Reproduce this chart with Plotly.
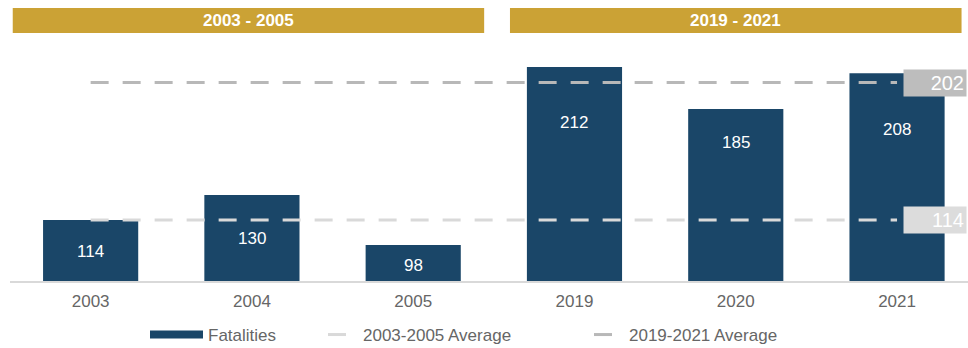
import plotly.graph_objects as go

years = ["2003", "2004", "2005", "2019", "2020", "2021"]
fatalities = [114, 130, 98, 212, 185, 208]
period_labels = ["2003 - 2005", "2019 - 2021"]
avg_names = ["2003-2005 Average", "2019-2021 Average"]

early = fatalities[:3]
late = fatalities[3:]
avg_early = round(sum(early) / len(early))
avg_late = round(sum(late) / len(late))

NAVY = "#1a4668"
GOLD = "#cba235"
LIGHT = "#d9d9d9"
DARK = "#b8b8b8"
FONT = "Liberation Sans, Arial, sans-serif"

# label offsets (px below bar top) for value labels
label_offsets = [31, 43, 20, 56, 33, 56]

fig = go.Figure()
fig.add_trace(go.Bar(x=years, y=fatalities, marker=dict(color=NAVY, line_width=0),
                     width=0.59, showlegend=False, hoverinfo="x+y"))
# legend proxy for bars
fig.add_trace(go.Scatter(x=[None], y=[None], mode="lines", name="Fatalities",
                         line=dict(color=NAVY, width=8), legend="legend"))
fig.add_trace(go.Scatter(x=[years[0], years[-1]], y=[avg_early, avg_early], mode="lines",
                         name=avg_names[0], line=dict(color=LIGHT, width=3, dash="18px,14px"),
                         legend="legend2"))
fig.add_trace(go.Scatter(x=[years[0], years[-1]], y=[avg_late, avg_late], mode="lines",
                         name=avg_names[1], line=dict(color=DARK, width=3, dash="18px,14px"),
                         legend="legend3"))

annotations = []
for i, (v, off) in enumerate(zip(fatalities, label_offsets)):
    annotations.append(dict(x=i, y=v, xref="x", yref="y", text=str(v), showarrow=False,
                            xanchor="center", yanchor="middle", yshift=-off,
                            font=dict(color="white", size=17, family=FONT)))
last = len(years) - 1
for val, bg in [(avg_late, "#bdbdbd"), (avg_early, "#dcdcdc")]:
    annotations.append(dict(x=last, y=val, xref="x", yref="y", text=str(val), showarrow=False,
                            xanchor="left", xshift=6, yanchor="middle",
                            bgcolor=bg, width=58, height=22, borderpad=2, align="right",
                            font=dict(color="white", size=20, family=FONT)))

shapes = []
bands = [(-0.483, 2.44), (2.60, 5.40)]
for (x0, x1), lab in zip(bands, period_labels):
    shapes.append(dict(type="rect", xref="x", yref="paper", x0=x0, x1=x1, y0=0.908, y1=1.0,
                       fillcolor=GOLD, line_width=0, layer="above"))
    annotations.append(dict(x=(x0 + x1) / 2, y=0.954, xref="x", yref="paper",
                            text="<b>" + lab + "</b>", xanchor="center", yanchor="middle",
                            showarrow=False, font=dict(color="white", size=17, family=FONT)))

leg_common = dict(orientation="h", xref="container", yref="container",
                  y=1 - 335 / 348, yanchor="middle", xanchor="left",
                  bgcolor="rgba(0,0,0,0)",
                  font=dict(color="#666666", size=17, family=FONT))

fig.update_layout(
    width=968, height=348,
    margin=dict(l=10, r=0, t=8, b=67, autoexpand=False),
    paper_bgcolor="white", plot_bgcolor="white",
    xaxis=dict(type="category", categoryorder="array", categoryarray=years,
               range=[-0.5, 5.44], showgrid=False, showline=True, linecolor=LIGHT, linewidth=1.5,
               ticks="", ticklabelstandoff=4,
               tickfont=dict(color="#666666", size=17, family=FONT)),
    yaxis=dict(range=[75, 249.7], visible=False, showgrid=False, zeroline=False),
    legend=dict(x=145 / 968, itemwidth=53, **leg_common),
    legend2=dict(x=323 / 968, **leg_common),
    legend3=dict(x=589 / 968, **leg_common),
    annotations=annotations, shapes=shapes,
)
fig.write_html("out.html", config={"displayModeBar": False},
               post_script="document.body.style.margin='0px';")
